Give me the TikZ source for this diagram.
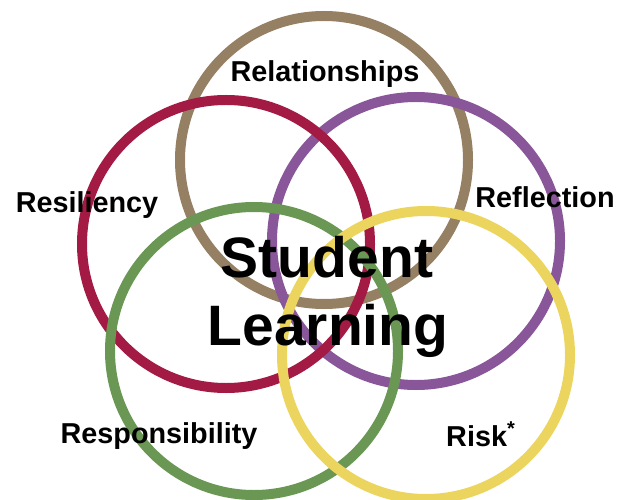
\documentclass[tikz,border=0pt]{standalone}
\usepackage{fontspec}
\setmainfont{Liberation Sans}
\definecolor{cbrown}{HTML}{968064}
\definecolor{ccrimson}{HTML}{A31B45}
\definecolor{cpurple}{HTML}{895699}
\definecolor{cgreen}{HTML}{6A9854}
\definecolor{cyellow}{HTML}{ECD55E}
\begin{document}
\begin{tikzpicture}[x=1bp,y=-1bp,
  ring/.style={line width=10bp},
  lbl/.style={inner sep=0pt,anchor=base,font=\fontsize{28.8bp}{32bp}\selectfont\bfseries},
  big/.style={inner sep=0pt,anchor=base,font=\fontsize{57bp}{68bp}\selectfont\bfseries}]
\useasboundingbox (0,0) rectangle (629,500);
\clip (0,0) rectangle (629,500);
\draw[ring,cbrown]   (324,160) circle[radius=144bp];
\draw[ring,cpurple]  (416,241) circle[radius=144bp];
\draw[ring,ccrimson] (226,244) circle[radius=144bp];
\draw[ring,cgreen]   (254,351) circle[radius=144bp];
\draw[ring,cyellow]  (426,355) circle[radius=144bp];
\node[lbl] (rel) at (325,82) {Relationships};
\node[lbl] (res) at (87,213) {Resiliency};
\node[lbl] (ref) at (545,208) {Reflection};
\node[lbl] (rsp) at (159,443) {Responsibility};
\node[lbl,anchor=base west] (risk) at (446,446) {Risk\raisebox{0.38em}{\fontsize{20bp}{20bp}\selectfont *}};
\node[big] (stu) at (327,277) {Student};
\node[big] (lea) at (328,345) {Learning};
\end{tikzpicture}
\end{document}
